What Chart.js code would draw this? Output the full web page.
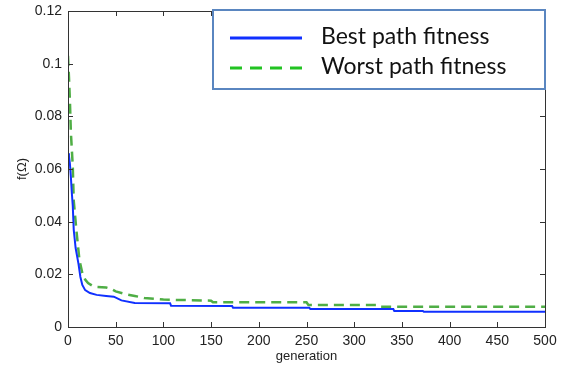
<!DOCTYPE html>
<html>
<head>
<meta charset="utf-8">
<script src="https://cdn.jsdelivr.net/npm/chart.js@4"></script>
<style>
    html, body { margin: 0; padding: 0; background: #fff; }
    #wrap { width: 567px; height: 371px; }
</style>
</head>
<body>
<div id="wrap"><canvas id="fitChart" width="567" height="371"></canvas></div>
<script>
// Data
const seriesNames = ['Best path fitness', 'Worst path fitness'];

const bestGen = [0, 1, 2, 3, 4, 5, 6, 8, 11, 13, 15, 18, 23, 30, 40, 48, 56, 70, 107, 108, 172, 173, 253, 254, 341, 342, 372, 373, 500];
const bestFit = [0.066, 0.065, 0.062, 0.057, 0.051, 0.046, 0.037, 0.030, 0.024, 0.019, 0.016, 0.014, 0.0129, 0.0122, 0.0118, 0.0115, 0.0101, 0.0091, 0.0090, 0.0081, 0.0080, 0.0073, 0.0073, 0.0068, 0.0068, 0.0061, 0.0061, 0.0058, 0.0058];

const worstGen = [0, 1, 2, 3, 5, 6, 9, 12, 15, 18, 21, 25, 30, 40, 45, 50, 60, 70, 80, 100, 150, 152, 250, 252, 323, 325, 500];
const worstFit = [0.103, 0.095, 0.086, 0.074, 0.061, 0.048, 0.036, 0.0254, 0.0205, 0.018, 0.0167, 0.0158, 0.0152, 0.0150, 0.0145, 0.0135, 0.0125, 0.0118, 0.0110, 0.0104, 0.0100, 0.0094, 0.0094, 0.0084, 0.0084, 0.0077, 0.0077];

const xTicks = [0, 50, 100, 150, 200, 250, 300, 350, 400, 450, 500];
const yTickLabels = ['0', '0.02', '0.04', '0.06', '0.08', '0.1', '0.12'];

const colors = {
    best: '#1030ff',
    worst: '#4fae45',
    legendWorst: '#22c322',
    legendBorder: '#5a86c0',
    axis: '#333'
};

function toPoints(xs, ys) {
    return xs.map((x, i) => ({ x: x, y: ys[i] }));
}

// MATLAB-style box with inward ticks
const boxPlugin = {
    id: 'boxTicks',
    afterDraw(chart) {
        const { ctx, chartArea: a, scales } = chart;
        const len = 5;
        ctx.save();
        ctx.strokeStyle = colors.axis;
        ctx.lineWidth = 1;
        ctx.strokeRect(a.left + 0.5, a.top + 0.5, a.right - a.left, a.bottom - a.top);
        ctx.beginPath();
        scales.x.ticks.forEach(t => {
            const px = Math.round(scales.x.getPixelForValue(t.value)) + 0.5;
            ctx.moveTo(px, a.bottom); ctx.lineTo(px, a.bottom - len);
            ctx.moveTo(px, a.top); ctx.lineTo(px, a.top + len);
        });
        scales.y.ticks.forEach(t => {
            const py = Math.round(scales.y.getPixelForValue(t.value)) + 0.5;
            ctx.moveTo(a.left, py); ctx.lineTo(a.left + len, py);
            ctx.moveTo(a.right, py); ctx.lineTo(a.right - len, py);
        });
        ctx.stroke();
        ctx.restore();
    }
};

// Boxed legend laid over the top right of the plot
const legendPlugin = {
    id: 'boxLegend',
    afterDraw(chart) {
        const ctx = chart.ctx;
        const a = chart.chartArea;
        const box = { left: 213, top: 10, right: a.right, bottom: 89 };
        ctx.save();
        ctx.fillStyle = '#fff';
        ctx.fillRect(box.left, box.top, box.right - box.left, box.bottom - box.top);
        ctx.strokeStyle = colors.legendBorder;
        ctx.lineWidth = 2;
        ctx.strokeRect(box.left, box.top, box.right - box.left, box.bottom - box.top);

        const rows = [
            { y: 38, color: colors.best, dash: [], width: 3 },
            { y: 68, color: colors.legendWorst, dash: [12, 8], width: 3 }
        ];
        ctx.font = '23px Lato, "Open Sans", sans-serif';
        ctx.textBaseline = 'middle';
        rows.forEach((r, i) => {
            ctx.beginPath();
            ctx.setLineDash(r.dash);
            ctx.strokeStyle = r.color;
            ctx.lineWidth = r.width;
            ctx.moveTo(230, r.y);
            ctx.lineTo(302, r.y);
            ctx.stroke();
            ctx.setLineDash([]);
            ctx.fillStyle = '#111';
            ctx.fillText(chart.data.datasets[i].label, 321, r.y - 1);
        });
        ctx.restore();
    }
};

const fontFamily = '"Liberation Sans", Arial, sans-serif';

new Chart(document.getElementById('fitChart'), {
    type: 'line',
    data: {
        datasets: [
            {
                label: seriesNames[0],
                data: toPoints(bestGen, bestFit),
                borderColor: colors.best,
                borderWidth: 2,
                pointRadius: 0,
                tension: 0
            },
            {
                label: seriesNames[1],
                data: toPoints(worstGen, worstFit),
                borderColor: colors.worst,
                borderWidth: 2.5,
                borderDash: [10, 6],
                pointRadius: 0,
                tension: 0
            }
        ]
    },
    options: {
        responsive: false,
        animation: false,
        layout: { padding: { left: 0, top: 11, right: 22, bottom: 0 } },
        plugins: {
            legend: { display: false },
            tooltip: { enabled: false }
        },
        scales: {
            x: {
                type: 'linear',
                min: 0,
                max: 500,
                afterBuildTicks: s => { s.ticks = xTicks.map(v => ({ value: v })); },
                afterFit: s => { s.height = 44; },
                grid: { display: false, drawTicks: false },
                border: { display: false },
                ticks: { color: '#222', font: { family: fontFamily, size: 14 }, padding: 6, maxRotation: 0 },
                title: {
                    display: true,
                    text: 'generation',
                    color: '#222',
                    font: { family: fontFamily, size: 13 },
                    padding: { top: 0, bottom: 7 }
                }
            },
            y: {
                min: 0,
                max: 0.12,
                ticks: {
                    stepSize: 0.02,
                    color: '#222',
                    // small lineHeight keeps the auto padding from pushing the plot top down
                    font: { family: fontFamily, size: 14, lineHeight: 0.6 },
                    padding: 6,
                    callback: (v, i) => yTickLabels[i]
                },
                afterFit: s => { s.width = 68; },
                grid: { display: false, drawTicks: false },
                border: { display: false },
                title: {
                    display: true,
                    text: 'f(Ω)',
                    color: '#222',
                    font: { family: fontFamily, size: 13 },
                    padding: { top: 15, bottom: 15 }
                }
            }
        }
    },
    plugins: [boxPlugin, legendPlugin]
});
</script>
</body>
</html>
